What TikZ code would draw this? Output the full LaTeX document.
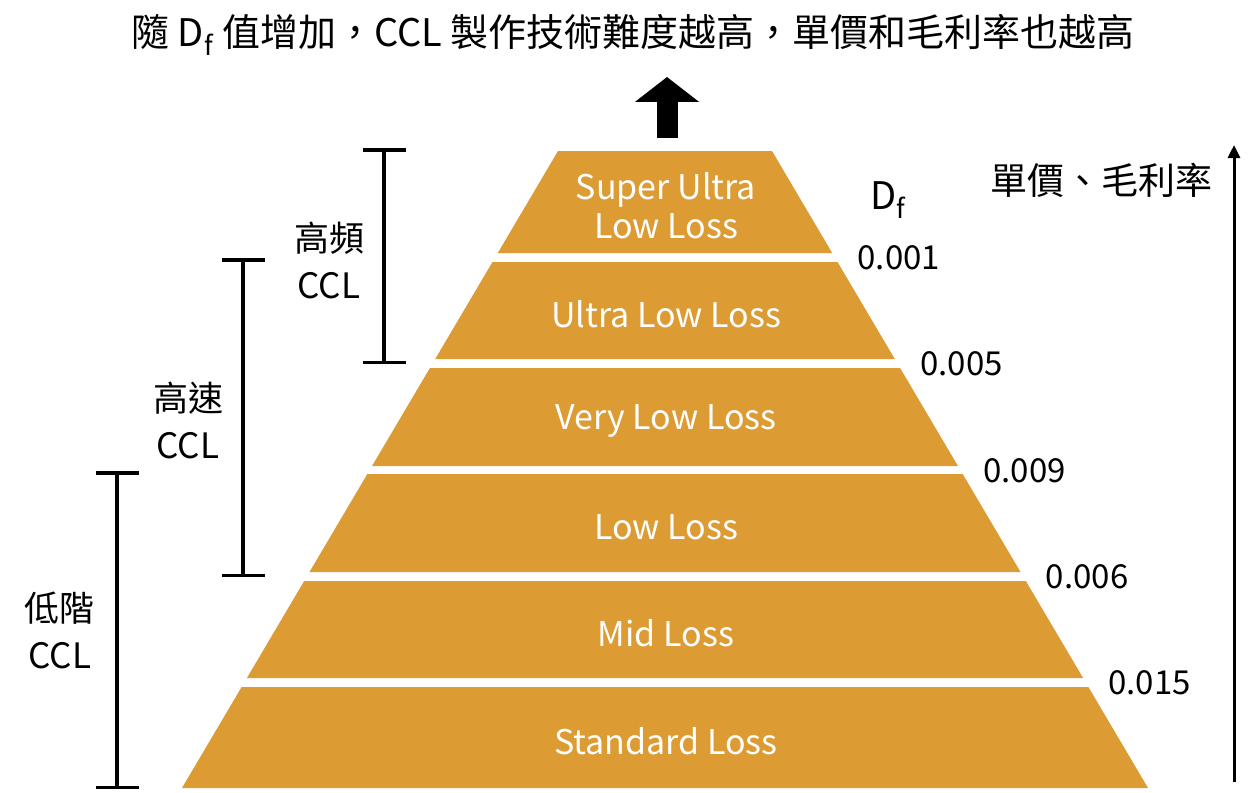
\documentclass[tikz,border=0pt]{standalone}
\usepackage{fontspec}
\setmainfont{Noto Sans CJK TC}
\usetikzlibrary{%
  positioning,
  arrows.meta,
}
\definecolor{layerfill}{RGB}{221,155,52}

\begin{document}
\begin{tikzpicture}[%
           x=0.5pt, y=-0.5pt,
           layer/.style={
             % The filling:
             fill=layerfill,
             draw=none,
           },
           layertext/.style={
             text=white,
             align=center,
             font=\fontsize{17}{19.5}\selectfont,
           },
           dfvalue/.style={
             anchor=west,
             inner sep=0pt,
             font=\fontsize{16.5}{19}\selectfont,
           },
           tierlabel/.style={
             align=center,
             inner sep=0pt,
             font=\fontsize{17.5}{23.5}\selectfont,
           },
           tierbar/.style={
             % a bar with a cap at both ends
             {Bar[width=21.5pt]}-{Bar[width=21.5pt]},
             line width=1.75pt,
           },
           uparrow/.style={
             -{Triangle[width=31.5pt,length=12.5pt]},
             line width=10.5pt,
           },
           pricearrow/.style={
             -{Triangle[width=6pt,length=6.5pt]},
             line width=1.5pt,
           }]

         \useasboundingbox (0,0) rectangle (1251,792);

         % the pyramid, one layer after the other
         \foreach \t/\b/\n/\txt in {151/253/sulow/{Super Ultra\\Low Loss},
                                    262/359/ulow/{Ultra Low Loss},
                                    368/466/vlow/{Very Low Loss},
                                    474/572/low/{Low Loss},
                                    581/678/mid/{Mid Loss},
                                    687/788/std/{Standard Loss}}{
           \fill[layer] ({558-0.5903*(\t-151)},\t) -- ({772+0.5903*(\t-151)},\t)
             -- ({772+0.5903*(\b-151)},\b) -- ({558-0.5903*(\b-151)},\b) -- cycle;
           \node[layertext] (\n) at (666,{(\t+\b)/2+4}) {\txt};
         }

         % Df values at the layer borders
         \node[font=\fontsize{19}{22}\selectfont] (dfhead) at (888,200) {D\textsubscript{f}};
         \foreach \b/\v [count=\i] in {253/0.001, 359/0.005, 466/0.009, 572/0.006, 678/0.015}
           \node[dfvalue] (dfval\i) at ({772+0.5903*(\b-151)+25},{\b+5}) {\v};

         \node[font=\fontsize{19}{22}\selectfont] (title) at (633,35)
           {隨 D\textsubscript{f} 值增加，CCL 製作技術難度越高，單價和毛利率也越高};

         \coordinate (upbase) at (667,138);
         \coordinate (uptip) at (667,77);
         \draw[uparrow] (upbase) -- (uptip);

         % the three CCL tiers
         \coordinate (hftop) at (384,148);
         \coordinate (hfbot) at (384,364);
         \coordinate (hstop) at (243,258);
         \coordinate (hsbot) at (243,577);
         \coordinate (lotop) at (117,471);
         \coordinate (lobot) at (117,789);
         \draw[tierbar] (hftop) -- (hfbot);
         \draw[tierbar] (hstop) -- (hsbot);
         \draw[tierbar] (lotop) -- (lobot);
         \node[tierlabel] (hflabel) at (329,260) {高頻\\CCL};
         \node[tierlabel] (hslabel) at (188,420) {高速\\CCL};
         \node[tierlabel] (lolabel) at (60,630) {低階\\CCL};

         % price and margin
         \coordinate (pricebot) at (1234,782);
         \coordinate (pricetop) at (1234,145);
         \draw[pricearrow] (pricebot) -- (pricetop);
         \node[font=\fontsize{18.5}{22}\selectfont] (pricelabel) at (1101,180) {單價、毛利率};

     \end{tikzpicture}
\end{document}
